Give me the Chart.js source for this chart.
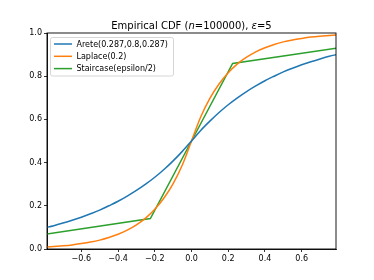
<!DOCTYPE html>
<html>
<head>
<meta charset="utf-8">
<script src="https://cdn.jsdelivr.net/npm/chart.js@4/dist/chart.umd.min.js"></script>
<style>
  body { margin: 0; background: #fff; }
  canvas { display: block; }
</style>
</head>
<body>
<canvas id="chart" width="374" height="280"></canvas>
<script>
// DATA
const xGrid = [-0.8, -0.75, -0.7, -0.65, -0.6, -0.55, -0.5, -0.45, -0.4, -0.35, -0.3, -0.25, -0.2, -0.15, -0.1, -0.05,
  0, 0.05, 0.1, 0.15, 0.2, 0.25, 0.3, 0.35, 0.4, 0.45, 0.5, 0.55, 0.6, 0.65, 0.7, 0.75, 0.8];
const areteCdf = [0.098, 0.108, 0.120, 0.133, 0.147, 0.163, 0.180, 0.200, 0.221, 0.245, 0.271, 0.300, 0.332, 0.368, 0.408, 0.452,
  0.5, 0.549, 0.592, 0.632, 0.668, 0.700, 0.729, 0.755, 0.779, 0.800, 0.820, 0.837, 0.853, 0.867, 0.880, 0.892, 0.902];
const laplaceCdf = [0.009, 0.012, 0.015, 0.019, 0.025, 0.032, 0.041, 0.053, 0.068, 0.087, 0.112, 0.143, 0.184, 0.236, 0.303, 0.389,
  0.5, 0.611, 0.697, 0.764, 0.816, 0.857, 0.888, 0.913, 0.932, 0.947, 0.959, 0.968, 0.975, 0.981, 0.985, 0.988, 0.991];
const stairX = [-0.8, -0.224, 0, 0.224, 0.8];
const stairCdf = [0.068, 0.141, 0.5, 0.859, 0.931];

const seriesNames = ["Arete(0.287,0.8,0.287)", "Laplace(0.2)", "Staircase(epsilon/2)"];
const seriesColors = ["#1f77b4", "#ff7f0e", "#2ca02c"];

const xTicks = [-0.6, -0.4, -0.2, 0, 0.2, 0.4, 0.6];
const xTickLabels = ["\u22120.6", "\u22120.4", "\u22120.2", "0.0", "0.2", "0.4", "0.6"];
const yTicks = [0, 0.2, 0.4, 0.6, 0.8, 1.0];
const yTickLabels = ["0.0", "0.2", "0.4", "0.6", "0.8", "1.0"];

const FONT = "DejaVu Sans";

function pts(xs, ys) {
  return xs.map((x, i) => ({ x: x, y: ys[i] }));
}

// title with italic n and epsilon
const titlePlugin = {
  id: "mplTitle",
  afterDraw(chart) {
    const ctx = chart.ctx;
    const a = chart.chartArea;
    const parts = [
      ["Empirical CDF (", ""],
      ["n", "italic "],
      ["=100000), ", ""],
      ["\u03b5", "italic "],
      ["=5", ""],
    ];
    ctx.save();
    let total = 0;
    parts.forEach((p) => {
      ctx.font = p[1] + "10px " + FONT;
      total += ctx.measureText(p[0]).width;
    });
    let x = (a.left + a.right) / 2 - total / 2;
    ctx.fillStyle = "#000";
    ctx.textBaseline = "alphabetic";
    parts.forEach((p) => {
      ctx.font = p[1] + "10px " + FONT;
      ctx.fillText(p[0], x, 28.5);
      x += ctx.measureText(p[0]).width;
    });
    ctx.restore();
  },
};

// box spines + legend inside the axes
const framePlugin = {
  id: "frame",
  afterDraw(chart) {
    const ctx = chart.ctx;
    const a = chart.chartArea;
    ctx.save();
    ctx.strokeStyle = "#000";
    ctx.lineWidth = 0.9;
    ctx.strokeRect(a.left, a.top, a.right - a.left, a.bottom - a.top);

    // legend
    const lx = a.left + 3.5, ly = a.top + 4.5, lw = 123, lh = 38.5;
    ctx.beginPath();
    ctx.roundRect(lx, ly, lw, lh, 2);
    ctx.fillStyle = "rgba(255,255,255,0.8)";
    ctx.fill();
    ctx.strokeStyle = "#cccccc";
    ctx.lineWidth = 0.8;
    ctx.stroke();
    ctx.font = "8px " + FONT;
    ctx.textBaseline = "middle";
    seriesNames.forEach((name, i) => {
      const yy = ly + 6.5 + i * 12.3;
      ctx.strokeStyle = seriesColors[i];
      ctx.lineWidth = 1.5;
      ctx.beginPath();
      ctx.moveTo(lx + 3.5, yy);
      ctx.lineTo(lx + 21.5, yy);
      ctx.stroke();
      ctx.fillStyle = "#000";
      ctx.fillText(name, lx + 26, yy + 0.5);
    });
    ctx.restore();
  },
};

const ctx = document.getElementById("chart").getContext("2d");
new Chart(ctx, {
  type: "scatter",
  data: {
    datasets: [
      { label: seriesNames[0], data: pts(xGrid, areteCdf), borderColor: seriesColors[0], cubicInterpolationMode: "monotone" },
      { label: seriesNames[1], data: pts(xGrid, laplaceCdf), borderColor: seriesColors[1], cubicInterpolationMode: "monotone" },
      { label: seriesNames[2], data: pts(stairX, stairCdf), borderColor: seriesColors[2] },
    ].map((d) => Object.assign(d, {
      showLine: true,
      borderWidth: 1.5,
      pointRadius: 0,
      clip: 0,
    })),
  },
  options: {
    responsive: false,
    animation: false,
    layout: { padding: { left: 0, right: 38, top: 33, bottom: 0 } },
    plugins: {
      legend: { display: false },
      title: { display: false },
      tooltip: { enabled: false },
    },
    scales: {
      x: {
        type: "linear",
        min: -0.787,
        max: 0.787,
        afterBuildTicks: (s) => { s.ticks = xTicks.map((v) => ({ value: v })); },
        afterFit: (s) => { s.height = 31; },
        ticks: {
          callback: (v, i) => xTickLabels[i],
          font: { family: FONT, size: 8 },
          color: "#000",
          padding: 2,
          maxRotation: 0,
          autoSkip: false,
        },
        grid: { drawOnChartArea: false, tickLength: 3, color: "#000", lineWidth: 0.8 },
        border: { color: "#000", width: 0.9 },
      },
      y: {
        min: 0,
        max: 1,
        afterBuildTicks: (s) => { s.ticks = yTicks.map((v) => ({ value: v })); },
        afterFit: (s) => { s.width = 47; },
        ticks: {
          callback: (v, i) => yTickLabels[i],
          font: { family: FONT, size: 8 },
          color: "#000",
          padding: 2,
          autoSkip: false,
        },
        grid: { drawOnChartArea: false, tickLength: 3, color: "#000", lineWidth: 0.8 },
        border: { color: "#000", width: 0.9 },
      },
    },
  },
  plugins: [titlePlugin, framePlugin],
});
</script>
</body>
</html>
